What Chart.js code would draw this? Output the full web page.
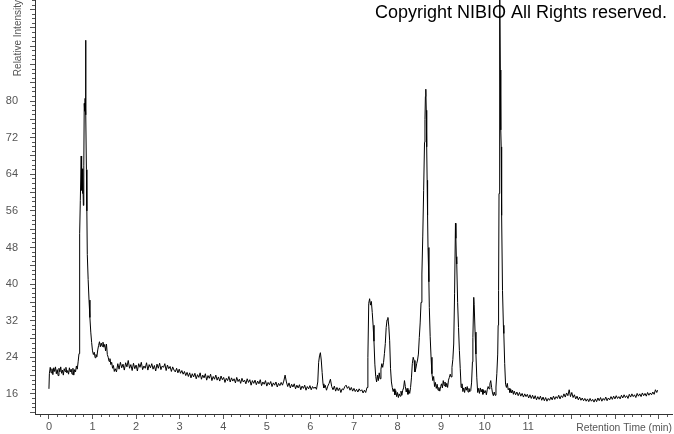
<!DOCTYPE html>
<html>
<head>
<meta charset="utf-8">
<script src="https://cdn.jsdelivr.net/npm/chart.js@4/dist/chart.umd.min.js"></script>
<style>
  body { margin: 0; background: #fff; }
</style>
</head>
<body>
<canvas id="chart" width="674" height="434"></canvas>
<script>
Chart.defaults.font.family = '"Liberation Sans", Arial, sans-serif'
Chart.defaults.color = '#555'

// retention time (min)
const retentionTime = [
  0.00, 0.01, 0.03, 0.05, 0.07, 0.09, 0.11, 0.13, 0.15, 0.17,
  0.19, 0.21, 0.23, 0.25, 0.27, 0.29, 0.31, 0.33, 0.35, 0.37,
  0.39, 0.41, 0.43, 0.45, 0.47, 0.49, 0.51, 0.53, 0.55, 0.57,
  0.59, 0.61, 0.63, 0.65, 0.67, 0.69, 0.70, 0.71, 0.72, 0.74,
  0.75, 0.76, 0.77, 0.78, 0.79, 0.80, 0.81, 0.82, 0.83, 0.84,
  0.85, 0.86, 0.87, 0.88, 0.90, 0.92, 0.94, 0.96, 0.98, 1.00,
  1.02, 1.04, 1.06, 1.08, 1.10, 1.12, 1.14, 1.16, 1.18, 1.20,
  1.22, 1.24, 1.26, 1.28, 1.30, 1.32, 1.34, 1.36, 1.38, 1.40,
  1.42, 1.44, 1.46, 1.48, 1.50, 1.52, 1.55, 1.58, 1.61, 1.64,
  1.67, 1.70, 1.73, 1.76, 1.79, 1.82, 1.85, 1.88, 1.91, 1.94,
  1.97, 2.00, 2.03, 2.06, 2.09, 2.12, 2.15, 2.18, 2.21, 2.24,
  2.27, 2.30, 2.33, 2.36, 2.39, 2.42, 2.45, 2.48, 2.51, 2.54,
  2.57, 2.60, 2.63, 2.66, 2.69, 2.72, 2.75, 2.78, 2.81, 2.84,
  2.87, 2.90, 2.93, 2.96, 2.99, 3.02, 3.05, 3.08, 3.11, 3.14,
  3.17, 3.20, 3.23, 3.26, 3.29, 3.32, 3.35, 3.38, 3.41, 3.44,
  3.47, 3.50, 3.53, 3.56, 3.59, 3.62, 3.65, 3.68, 3.71, 3.74,
  3.77, 3.80, 3.83, 3.86, 3.89, 3.92, 3.95, 3.98, 4.01, 4.04,
  4.07, 4.10, 4.13, 4.16, 4.19, 4.22, 4.25, 4.28, 4.31, 4.34,
  4.37, 4.40, 4.43, 4.46, 4.49, 4.52, 4.55, 4.58, 4.61, 4.64,
  4.67, 4.70, 4.73, 4.76, 4.79, 4.82, 4.85, 4.88, 4.91, 4.94,
  4.97, 5.00, 5.03, 5.06, 5.09, 5.12, 5.15, 5.18, 5.21, 5.24,
  5.27, 5.30, 5.33, 5.36, 5.39, 5.42, 5.45, 5.48, 5.51, 5.54,
  5.57, 5.60, 5.63, 5.66, 5.69, 5.72, 5.75, 5.78, 5.81, 5.84,
  5.87, 5.90, 5.93, 5.96, 5.99, 6.02, 6.05, 6.08, 6.11, 6.14,
  6.17, 6.19, 6.21, 6.23, 6.25, 6.27, 6.29, 6.31, 6.34, 6.37,
  6.40, 6.43, 6.46, 6.49, 6.52, 6.55, 6.58, 6.61, 6.64, 6.67,
  6.70, 6.73, 6.76, 6.79, 6.82, 6.85, 6.88, 6.91, 6.94, 6.97,
  7.00, 7.03, 7.06, 7.09, 7.12, 7.15, 7.18, 7.21, 7.24, 7.27,
  7.30, 7.32, 7.34, 7.36, 7.38, 7.40, 7.42, 7.44, 7.46, 7.48,
  7.50, 7.52, 7.54, 7.56, 7.58, 7.60, 7.62, 7.64, 7.66, 7.68,
  7.70, 7.72, 7.74, 7.76, 7.78, 7.80, 7.82, 7.84, 7.86, 7.88,
  7.90, 7.92, 7.94, 7.96, 7.98, 8.00, 8.02, 8.04, 8.06, 8.08,
  8.10, 8.12, 8.14, 8.16, 8.18, 8.20, 8.22, 8.24, 8.26, 8.28,
  8.30, 8.32, 8.34, 8.36, 8.38, 8.40, 8.42, 8.44, 8.46, 8.48,
  8.50, 8.52, 8.54, 8.56, 8.58, 8.60, 8.62, 8.63, 8.64, 8.65,
  8.66, 8.67, 8.68, 8.69, 8.70, 8.72, 8.73, 8.75, 8.77, 8.79,
  8.81, 8.83, 8.85, 8.87, 8.89, 8.91, 8.93, 8.95, 8.97, 8.99,
  9.01, 9.03, 9.05, 9.07, 9.09, 9.11, 9.13, 9.15, 9.17, 9.19,
  9.21, 9.23, 9.25, 9.27, 9.29, 9.31, 9.33, 9.34, 9.35, 9.36,
  9.38, 9.40, 9.42, 9.44, 9.46, 9.48, 9.50, 9.52, 9.54, 9.56,
  9.58, 9.60, 9.62, 9.64, 9.66, 9.68, 9.70, 9.72, 9.73, 9.75,
  9.76, 9.78, 9.80, 9.82, 9.84, 9.86, 9.88, 9.90, 9.92, 9.94,
  9.96, 9.98, 10.00, 10.02, 10.04, 10.06, 10.08, 10.10, 10.12, 10.14,
  10.16, 10.18, 10.20, 10.22, 10.24, 10.26, 10.28, 10.30, 10.31, 10.32,
  10.33, 10.34, 10.35, 10.36, 10.37, 10.38, 10.39, 10.41, 10.43, 10.44,
  10.46, 10.48, 10.50, 10.52, 10.54, 10.56, 10.58, 10.60, 10.62, 10.64,
  10.66, 10.68, 10.71, 10.74, 10.77, 10.80, 10.83, 10.86, 10.89, 10.92,
  10.95, 10.98, 11.01, 11.04, 11.07, 11.10, 11.13, 11.16, 11.19, 11.22,
  11.25, 11.28, 11.31, 11.34, 11.37, 11.40, 11.43, 11.46, 11.49, 11.52,
  11.55, 11.58, 11.61, 11.64, 11.67, 11.70, 11.73, 11.76, 11.79, 11.82,
  11.85, 11.88, 11.91, 11.94, 11.97, 12.00, 12.03, 12.06, 12.09, 12.12,
  12.15, 12.18, 12.21, 12.24, 12.27, 12.30, 12.33, 12.36, 12.39, 12.42,
  12.45, 12.48, 12.51, 12.54, 12.57, 12.60, 12.63, 12.66, 12.69, 12.72,
  12.75, 12.78, 12.81, 12.84, 12.87, 12.90, 12.93, 12.96, 12.99, 13.02,
  13.05, 13.08, 13.11, 13.14, 13.17, 13.20, 13.23, 13.26, 13.29, 13.32,
  13.35, 13.38, 13.41, 13.44, 13.47, 13.50, 13.53, 13.56, 13.59, 13.62,
  13.65, 13.68, 13.71, 13.74, 13.77, 13.80, 13.83, 13.86, 13.89, 13.92,
  13.95, 13.97
]

// relative intensity, same order
const intensity = [
  17.1, 20.4, 21.8, 20.6, 21.5, 20.2, 21.7, 20.9, 21.9, 20.4,
  21.3, 20.0, 21.6, 20.8, 21.9, 20.5, 21.2, 20.1, 21.5, 20.9,
  21.8, 20.6, 21.1, 20.3, 21.7, 20.8, 21.4, 20.3, 21.6, 20.1,
  21.3, 20.8, 22.1, 21.4, 23.0, 24.8, 40.0, 51.0, 58.3, 68.0,
  60.5, 65.2, 59.8, 64.6, 57.2, 66.0, 79.5, 77.8, 80.6, 93.3,
  77.0, 65.0, 56.0, 46.5, 41.0, 36.5, 32.7, 29.5, 27.2, 25.4,
  24.6, 25.1, 23.9, 24.6, 24.1, 25.6, 26.6, 27.4, 26.3, 27.1,
  26.4, 27.3, 26.2, 26.8, 25.4, 26.9, 24.6, 24.0, 23.1, 23.7,
  22.4, 22.9, 21.6, 22.2, 20.9, 21.5, 20.8, 22.6, 21.4, 22.9,
  21.7, 22.5, 21.2, 22.8, 21.9, 23.3, 21.6, 22.4, 21.1, 22.7,
  21.5, 22.3, 21.0, 22.6, 21.8, 22.9, 21.3, 22.1, 21.6, 22.8,
  21.2, 22.4, 21.7, 22.6, 21.4, 22.2, 21.0, 22.5, 21.6, 22.7,
  21.3, 22.1, 21.8, 22.6, 21.1, 22.3, 21.5, 22.0, 20.9, 21.9,
  21.2, 20.8, 21.6, 20.6, 21.4, 20.5, 21.1, 20.3, 20.9, 20.0,
  20.7, 19.8, 20.6, 19.5, 20.4, 19.7, 20.5, 19.3, 20.2, 19.6,
  20.6, 19.2, 20.1, 19.5, 20.4, 19.0, 20.0, 19.4, 20.3, 18.9,
  19.8, 19.2, 20.1, 19.0, 19.7, 18.8, 19.9, 19.1, 19.6, 18.5,
  19.4, 18.9, 19.8, 18.6, 19.5, 18.8, 19.3, 18.4, 19.6, 18.7,
  19.2, 18.3, 19.4, 18.6, 19.0, 18.2, 19.3, 18.5, 19.1, 17.9,
  18.9, 18.3, 19.0, 18.0, 18.8, 18.2, 19.1, 17.8, 18.6, 18.1,
  18.9, 17.7, 18.5, 18.0, 18.7, 17.6, 18.4, 17.9, 18.6, 17.5,
  18.3, 17.8, 18.5, 17.9, 18.8, 20.1, 18.6, 17.6, 18.4, 17.3,
  18.1, 17.5, 18.2, 17.1, 17.9, 17.3, 18.0, 16.9, 17.7, 17.2,
  17.9, 16.8, 17.6, 17.1, 17.8, 16.9, 17.6, 17.2, 17.5, 17.0,
  18.6, 22.9, 24.3, 25.0, 23.4, 20.7, 18.2, 17.3, 17.9, 16.8,
  17.7, 18.3, 19.2, 17.6, 16.9, 17.7, 16.6, 17.4, 16.7, 17.3,
  16.3, 17.1, 16.9, 17.6, 17.9, 17.2, 17.6, 16.8, 17.4, 16.6,
  17.2, 16.5, 17.0, 16.4, 17.1, 16.6, 16.9, 16.2, 16.8, 16.3,
  17.4, 24.0, 35.8, 36.8, 35.4, 36.2, 33.8, 31.0, 27.5, 22.5,
  19.8, 18.6, 20.1, 18.9, 20.6, 19.3, 21.4, 22.6, 21.8, 22.9,
  24.8, 27.0, 30.5, 32.2, 32.7, 30.8, 27.6, 21.5, 18.6, 17.4,
  16.5, 17.1, 15.8, 16.7, 15.4, 16.3, 15.2, 16.0, 15.5, 16.6,
  15.7, 16.8, 17.3, 18.9, 17.6, 16.4, 17.2, 15.9, 16.8, 16.1,
  17.4, 19.5, 22.6, 24.0, 23.3, 20.8, 21.5, 22.6, 23.4, 24.7,
  28.3, 31.5, 36.0, 42.2, 50.5, 60.5, 71.0, 76.0, 81.0, 82.6,
  78.0, 70.0, 62.7, 55.0, 48.0, 40.5, 34.9, 28.5, 24.0, 20.4,
  18.9, 19.8, 17.6, 18.5, 17.2, 18.1, 16.8, 17.4, 16.6, 17.6,
  18.2, 17.3, 18.9, 17.8, 18.6, 17.5, 18.3, 17.4, 19.0, 19.6,
  20.3, 19.7, 21.8, 23.5, 26.9, 38.0, 53.3, 50.0, 46.0, 44.4,
  36.0, 30.5, 25.5, 21.5, 17.4, 18.2, 16.5, 17.3, 16.3, 17.5,
  16.8, 17.6, 16.4, 17.2, 16.5, 16.7, 18.4, 23.0, 28.3, 37.1,
  35.5, 29.5, 24.7, 19.5, 16.3, 17.2, 16.1, 17.3, 16.4, 17.0,
  15.9, 16.8, 16.2, 16.7, 15.8, 16.9, 17.6, 17.1, 18.2, 18.9,
  17.4, 16.2, 15.6, 16.4, 15.7, 17.5, 20.5, 24.7, 31.0, 38.6,
  59.8, 78.0, 108.0, 86.8, 73.7, 70.0, 55.0, 38.6, 31.0, 29.2,
  22.6, 18.1, 17.4, 18.3, 16.9, 17.2, 16.3, 17.0, 16.2, 16.8,
  15.9, 16.6, 15.8, 16.4, 15.6, 16.3, 15.5, 16.1, 15.3, 16.0,
  15.4, 15.9, 15.1, 15.8, 15.0, 15.7, 14.9, 15.6, 14.7, 15.4,
  14.8, 15.5, 14.6, 15.3, 14.5, 15.2, 14.4, 15.0, 14.6, 15.3,
  14.7, 15.5, 14.8, 15.4, 15.0, 15.7, 14.9, 15.6, 15.2, 16.0,
  15.3, 16.2, 15.6, 16.9, 15.4, 16.3, 15.2, 15.8, 14.9, 15.5,
  14.7, 15.3, 14.6, 15.1, 14.5, 15.0, 14.4, 14.9, 14.3, 15.0,
  14.4, 14.8, 14.2, 14.9, 14.3, 15.1, 14.5, 15.2, 14.4, 15.0,
  14.6, 15.3, 14.5, 15.1, 14.7, 15.4, 14.8, 15.5, 14.9, 15.6,
  15.0, 15.4, 14.9, 15.7, 15.1, 15.8, 15.2, 15.6, 15.0, 15.9,
  15.3, 16.0, 15.4, 15.8, 15.2, 16.1, 15.5, 16.0, 15.4, 16.2,
  15.6, 16.1, 15.5, 16.3, 15.7, 16.2, 15.8, 16.4, 15.9, 16.9,
  16.3, 16.8
]

// tick labels that carry text
const timeTickLabels = [0, 1, 2, 3, 4, 5, 6, 7, 8, 9, 10, 11]
const intensityTickLabels = [16, 24, 32, 40, 48, 56, 64, 72, 80]

const timeRange = [-0.32, 14.3]
const intensityRange = [11.6, 102.1]


const copyrightNote = {
    id: 'copyrightNote',
    beforeDatasetsDraw(chart) {
        const ctx = chart.ctx
        ctx.save()
        ctx.font = '18px "Liberation Sans", Arial, sans-serif'
        ctx.fillStyle = '#000'
        ctx.textAlign = 'right'
        ctx.textBaseline = 'middle'
        ctx.fillText('Copyright NIBIO All Rights reserved.', 667, 13)
        ctx.restore()
    }
}

function isWhole(v) {
    return Math.abs(v - Math.round(v)) < 1e-6
}

// keep the plot flush with the canvas edges
function noEndPadding(scale) {
    scale.paddingTop = 0
    scale.paddingBottom = 0
    scale.paddingLeft = 0
    scale.paddingRight = 0
}

const data = {
    datasets: [{
        data: retentionTime.map((t, i) => ({ x: t, y: intensity[i] })),
        borderColor: '#000',
        borderWidth: 1,
        pointRadius: 0,
        tension: 0,
        xAxisID: 'x',
        yAxisID: 'y'
    }]
}

const options = {
    responsive: false,
    animation: false,
    layout: { padding: { top: 0, right: 2, bottom: 0, left: 0 } },
    plugins: {
        legend: { display: false },
        tooltip: { enabled: false }
    },
    scales: {
        x: {
            type: 'linear',
            position: 'bottom',
            weight: 1,
            min: timeRange[0],
            max: timeRange[1],
            afterFit: scale => { scale.height = 20; noEndPadding(scale) },
            border: { color: '#333' },
            grid: { drawOnChartArea: false, tickLength: 5, tickColor: '#555' },
            ticks: {
                stepSize: 1,
                autoSkip: false,
                includeBounds: false,
                maxRotation: 0,
                padding: 1,
                font: { size: 11 },
                callback: v => (isWhole(v) && timeTickLabels.includes(Math.round(v))) ? String(Math.round(v)) : ''
            },
            title: {
                display: true,
                text: 'Retention Time (min)',
                align: 'end',
                font: { size: 10.3 },
                color: '#555',
                padding: 0
            }
        },
        xMinor: {
            type: 'linear',
            position: 'bottom',
            weight: 0,
            min: timeRange[0],
            max: timeRange[1],
            afterFit: scale => { scale.height = 0; noEndPadding(scale) },
            border: { display: false },
            grid: { drawOnChartArea: false, tickLength: 3, tickColor: '#555' },
            ticks: { stepSize: 0.2, autoSkip: false, includeBounds: false, display: false }
        },
        y: {
            type: 'linear',
            position: 'left',
            weight: 1,
            min: intensityRange[0],
            max: intensityRange[1],
            afterFit: scale => { scale.width = 35; noEndPadding(scale) },
            border: { color: '#333' },
            grid: { drawOnChartArea: false, tickLength: 5, tickColor: '#555' },
            ticks: {
                stepSize: 4,
                autoSkip: false,
                includeBounds: false,
                padding: 12,
                font: { size: 11 },
                callback: v => (isWhole(v) && intensityTickLabels.includes(Math.round(v))) ? String(Math.round(v)) : ''
            },
            title: {
                display: true,
                text: 'Relative Intensity',
                align: 'end',
                font: { size: 10 },
                color: '#555',
                padding: { top: 12, bottom: 0 }
            }
        },
        yMinor: {
            type: 'linear',
            position: 'left',
            weight: 0,
            min: intensityRange[0],
            max: intensityRange[1],
            afterFit: scale => { scale.width = 0; noEndPadding(scale) },
            border: { display: false },
            grid: { drawOnChartArea: false, tickLength: 3, tickColor: '#555' },
            ticks: { stepSize: 1, autoSkip: false, includeBounds: false, display: false }
        }
    }
}

new Chart('chart', { type: 'line', data, options, plugins: [copyrightNote] })
</script>
</body>
</html>
